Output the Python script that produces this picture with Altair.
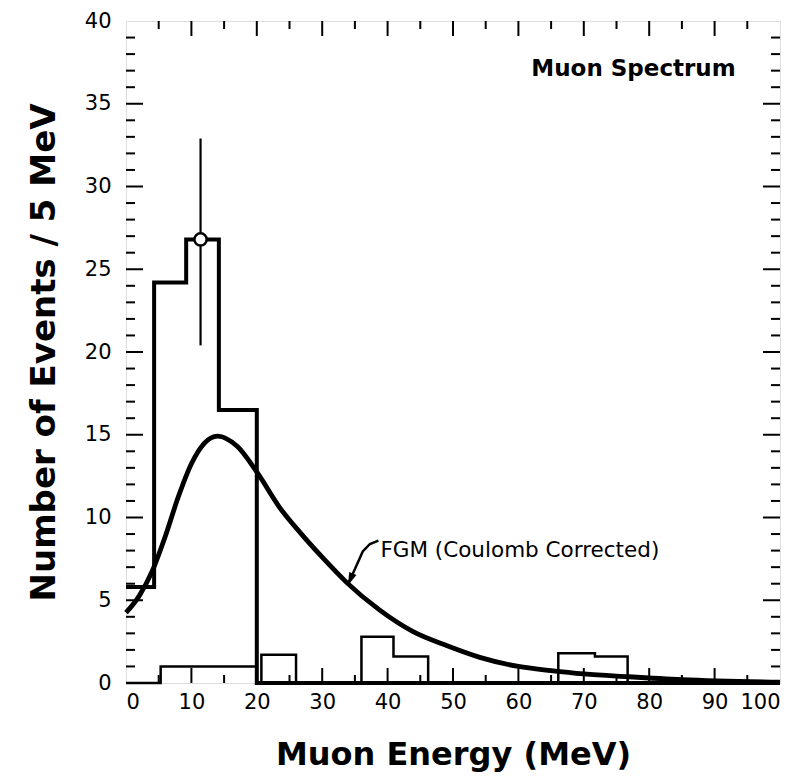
import altair as alt
import pandas as pd

# ---- data ----
# thick histogram (step outline): left edges and levels
thick_x = [0, 4.3, 9.2, 14.2, 20.0, 100]
thick_y = [5.8, 24.2, 26.8, 16.5, 0, 0]

# thin histogram (step outline)
thin_x = [0, 5.3, 20.0, 20.7, 26.0, 36.0, 40.9, 46.2, 66.1, 71.7, 76.7, 100]
thin_y = [0, 1.0, 0, 1.7, 0, 2.8, 1.6, 0, 1.8, 1.6, 0, 0]

# FGM (Coulomb corrected) curve
fgm_x = [0, 2, 4, 6, 8, 10, 12, 14, 17.0, 20.0, 23.5, 26.6, 30, 33.8, 38.8, 43.9, 49.1, 54.1, 60, 65, 70, 76.7, 85, 100]
fgm_y = [4.25, 5.25, 6.75, 8.85, 11.25, 13.25, 14.5, 14.92, 14.3, 12.75, 10.6, 9.1, 7.6, 6.05, 4.4, 3.1, 2.25, 1.55, 1.0, 0.75, 0.55, 0.38, 0.2, 0.05]

# data point with error bar
pt_x = [11.4]
pt_y = [26.8]
pt_lo = [20.4]
pt_hi = [32.9]

# annotation arrow path and head
arrow_x = [38.6, 37.3, 36.2, 33.9]
arrow_y = [8.6, 8.4, 7.95, 5.9]
head_x = [34.3]
head_y = [6.25]

x_major = [10, 20, 30, 40, 50, 60, 70, 80, 90]
x_minor = [5, 15, 25, 35, 45, 55, 65, 75, 85, 95]
y_major = [5, 10, 15, 20, 25, 30, 35]
y_minor = [v for v in range(1, 40) if v % 5 != 0]

W, H = 654, 662
FONT = "DejaVu Sans"

xs = alt.Scale(domain=[0, 100], nice=False, zero=False)
ys = alt.Scale(domain=[0, 40], nice=False, zero=False)

X = alt.X("x:Q", scale=xs,
          axis=alt.Axis(values=list(range(0, 101, 10)), title="Muon Energy (MeV)",
                        grid=False, ticks=False, tickSize=0, domain=False,
                        labelFontSize=21, labelFont=FONT, labelColor="black", labelPadding=8,
                        titleFont=FONT, titleFontSize=32, titleFontWeight="bold",
                        titleColor="black", titlePadding=27))
Y = alt.Y("y:Q", scale=ys,
          axis=alt.Axis(values=list(range(0, 41, 5)), title="Number of Events / 5 MeV",
                        grid=False, ticks=False, tickSize=0, domain=False,
                        labelFontSize=21, labelFont=FONT, labelColor="black", labelPadding=15,
                        titleFont=FONT, titleFontSize=34, titleFontWeight="bold",
                        titleColor="black", titlePadding=23))

thick = alt.Chart(pd.DataFrame({"x": thick_x, "y": thick_y})).mark_line(
    interpolate="step-after", color="black", strokeWidth=4).encode(x=X, y=Y)
thin = alt.Chart(pd.DataFrame({"x": thin_x, "y": thin_y})).mark_line(
    interpolate="step-after", color="black", strokeWidth=2.5).encode(x="x:Q", y="y:Q")
fgm = alt.Chart(pd.DataFrame({"x": fgm_x, "y": fgm_y})).mark_line(
    interpolate="monotone", color="black", strokeWidth=4.8).encode(x="x:Q", y="y:Q")

err = alt.Chart(pd.DataFrame({"x": pt_x, "y": pt_lo, "y2": pt_hi})).mark_rule(
    color="black", strokeWidth=2.2).encode(x="x:Q", y="y:Q", y2="y2:Q")
pt = alt.Chart(pd.DataFrame({"x": pt_x, "y": pt_y})).mark_point(
    filled=True, fill="white", stroke="black", strokeWidth=2.5, size=150, opacity=1,
    shape="circle").encode(x="x:Q", y="y:Q")

arrow = alt.Chart(pd.DataFrame({"x": arrow_x, "y": arrow_y, "i": list(range(len(arrow_x)))})).mark_line(
    color="black", strokeWidth=2.5).encode(x="x:Q", y="y:Q", order="i:Q")
head = alt.Chart(pd.DataFrame({"x": head_x, "y": head_y})).mark_point(
    shape="M0,-1L0.6,1L-0.6,1Z", filled=True, color="black", opacity=1, size=170, angle=203
).encode(x="x:Q", y="y:Q")

ann = alt.Chart(pd.DataFrame({"x": [38.9], "y": [8.0], "t": ["FGM (Coulomb Corrected)"]})).mark_text(
    align="left", baseline="middle", font=FONT, fontSize=21.5, color="black").encode(
    x="x:Q", y="y:Q", text="t:N")
title_txt = alt.Chart(pd.DataFrame({"x": [77.6], "y": [37.1], "t": ["Muon Spectrum"]})).mark_text(
    align="center", baseline="middle", font=FONT, fontSize=23, fontWeight="bold", color="black").encode(
    x="x:Q", y="y:Q", text="t:N")

def xt(vals, ln):
    d = pd.DataFrame({"x": vals})
    b = alt.Chart(d).mark_rule(color="black", strokeWidth=2).encode(
        x="x:Q", y=alt.value(H), y2=alt.value(H - ln))
    t = alt.Chart(d).mark_rule(color="black", strokeWidth=2).encode(
        x="x:Q", y=alt.value(0), y2=alt.value(ln))
    return [b, t]

def yt(vals, ln):
    d = pd.DataFrame({"y": vals})
    l = alt.Chart(d).mark_rule(color="black", strokeWidth=2).encode(
        y="y:Q", x=alt.value(0), x2=alt.value(ln))
    r = alt.Chart(d).mark_rule(color="black", strokeWidth=2).encode(
        y="y:Q", x=alt.value(W), x2=alt.value(W - ln))
    return [l, r]

ticks = xt(x_major, 15) + xt(x_minor, 8) + yt(y_major, 17) + yt(y_minor, 9)

chart = alt.layer(thick, thin, fgm, err, pt, arrow, head, ann, title_txt, *ticks).properties(
    width=W, height=H,
    autosize=alt.AutoSizeParams(type="none"),
    padding={"left": 118, "top": 13, "right": 15, "bottom": 90},
).configure_view(stroke="black", strokeWidth=3.8).configure(background="white")

chart.save("out.html", embed_options={"renderer": "svg", "actions": False})
